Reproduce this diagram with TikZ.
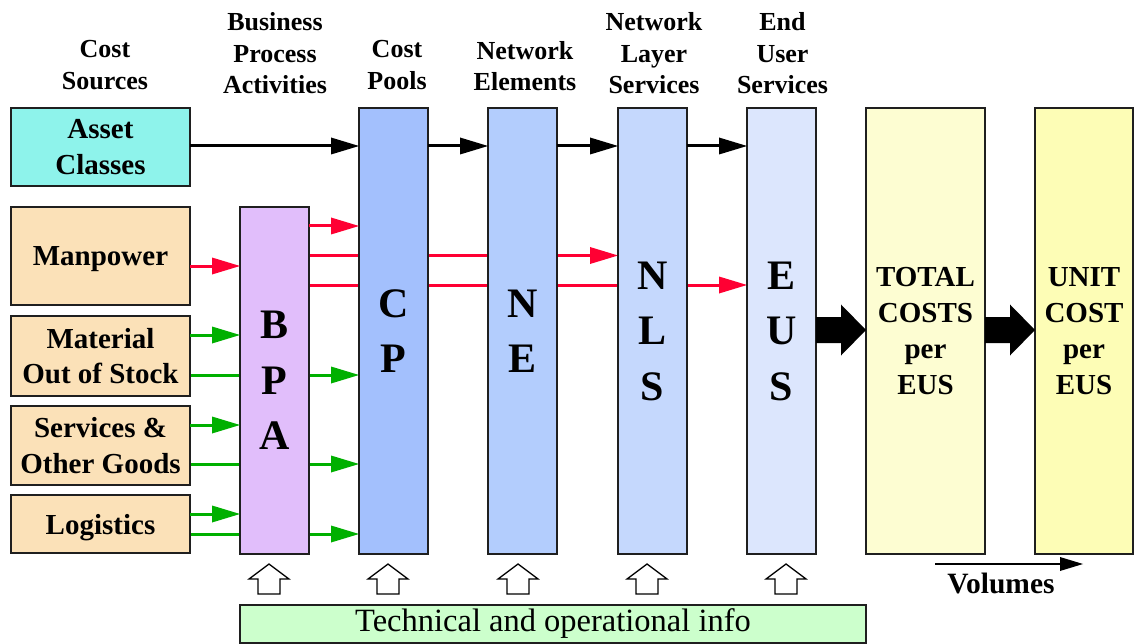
\documentclass[tikz,border=0pt]{standalone}
\usepackage{fontspec}
\setmainfont{Liberation Serif}
\usetikzlibrary{arrows.meta,backgrounds}
\definecolor{cAsset}{HTML}{8EF3EB}
\definecolor{cSrc}{HTML}{FBE1B8}
\definecolor{cBPA}{HTML}{E1BEFB}
\definecolor{cCP}{HTML}{A3C0FD}
\definecolor{cNE}{HTML}{B3CDFD}
\definecolor{cNLS}{HTML}{C5D8FD}
\definecolor{cEUS}{HTML}{DCE6FD}
\definecolor{cTot}{HTML}{FDFDD2}
\definecolor{cUnit}{HTML}{FDFDB6}
\definecolor{cTech}{HTML}{CCFFCC}
\definecolor{cRed}{HTML}{FF0033}
\definecolor{cGreen}{HTML}{00B000}
\begin{document}
\begin{tikzpicture}[x=1pt,y=-1pt,
  box/.style={draw=black!88, line width=1.5pt, inner sep=0pt, outer sep=0pt, align=center,
    anchor=north west, font=\fontsize{29}{35.5}\selectfont\bfseries},
  src/.style={box, fill=cSrc, minimum width=179pt},
  col/.style={box, minimum width=69pt, minimum height=446pt,
    font=\fontsize{42}{55.5}\selectfont\bfseries},
  res/.style={box, minimum height=446pt, font=\fontsize{29}{36}\selectfont\bfseries},
  hdr/.style={anchor=north, inner sep=0pt, align=center, font=\fontsize{26}{31.5}\selectfont\bfseries},
  blk/.style={line width=3pt, -{Triangle[length=28pt,width=17pt,line width=0pt]}},
  rd/.style={blk, draw=cRed},
  gr/.style={blk, draw=cGreen},
  hollowup/.pic={\draw[line width=1.3pt, fill=white, line join=miter]
    (-11,0) -- (-11,-15) -- (-20,-15) -- (0,-30) -- (20,-15) -- (11,-15) -- (11,0) -- cycle;},
  bigarr/.pic={\fill[black] (0,-13) -- (25,-13) -- (25,-25.5) -- (50,0) -- (25,25.5) -- (25,13) -- (0,13) -- cycle;}
]
\useasboundingbox (0,0) rectangle (1134,644);

% headers
\node[hdr] (h1) at (105,40.5) {Cost\\Sources};
\node[hdr] (h2) at (275,12.5) {Business\\Process\\Activities};
\node[hdr] (h3) at (397,40.5) {Cost\\Pools};
\node[hdr] (h4) at (525,41) {Network\\Elements};
\node[hdr] (h5) at (654,12.5) {Network\\Layer\\Services};
\node[hdr] (h6) at (782.5,12.5) {End\\User\\Services};

% source boxes
\node[box, fill=cAsset, minimum width=179pt, minimum height=78pt] (asset) at (11,108) {Asset\\Classes};
\node[src, minimum height=98pt, text depth=0pt] (man) at (11,207) {Manpower};
\node[src, minimum height=80pt] (mat) at (11,316) {Material\\Out of Stock};
\node[src, minimum height=79pt] (serv) at (11,406) {Services \&\\Other Goods};
\node[src, minimum height=58pt, text depth=0pt] (log) at (11,495) {Logistics};

% columns
\node[col, fill=cBPA, minimum height=347pt] (bpa) at (240,207) {B\\P\\A};
\node[col, fill=cCP] (cp) at (359,108) {C\\P};
\node[col, fill=cNE] (ne) at (488,108) {N\\E};
\node[col, fill=cNLS] (nls) at (618,108) {N\\L\\S};
\node[col, fill=cEUS] (eus) at (747,108) {E\\U\\S};
\node[res, fill=cTot, minimum width=119pt] (tot) at (866,108) {TOTAL\\COSTS\\per\\EUS};
\node[res, fill=cUnit, minimum width=98pt] (unit) at (1035,108) {UNIT\\COST\\per\\EUS};

% technical info
\node[box, fill=cTech, minimum width=626pt, minimum height=38pt,
  font=\fontsize{32.5}{36}\selectfont] (tech) at (240,605) {Technical and operational info};

% black arrows
\draw[blk] (asset.east |- 0,146) -- (cp.west |- 0,146);
\draw[blk] (cp.east |- 0,146) -- (ne.west |- 0,146);
\draw[blk] (ne.east |- 0,146) -- (nls.west |- 0,146);
\draw[blk] (nls.east |- 0,146) -- (eus.west |- 0,146);

% red arrows
\draw[rd] (man.east |- 0,266) -- (bpa.west |- 0,266);
\draw[rd] (bpa.east |- 0,226) -- (cp.west |- 0,226);

% green arrows
\draw[gr] (mat.east |- 0,335) -- (bpa.west |- 0,335);
\draw[gr] (serv.east |- 0,425) -- (bpa.west |- 0,425);
\draw[gr] (log.east |- 0,514) -- (bpa.west |- 0,514);

\begin{pgfonlayer}{background}
  \fill[white] (0,0) rectangle (1134,644);
  \draw[rd] (bpa.east |- 0,255.5) -- (nls.west |- 0,255.5);
  \draw[rd] (bpa.east |- 0,285) -- (eus.west |- 0,285);
  \draw[gr] (mat.east |- 0,375) -- (cp.west |- 0,375);
  \draw[gr] (serv.east |- 0,464) -- (cp.west |- 0,464);
  \draw[gr] (log.east |- 0,534) -- (cp.west |- 0,534);
\end{pgfonlayer}

% big arrows
\pic at (eus.east |- 0,330) {bigarr};
\pic at (tot.east |- 0,330) {bigarr};

% hollow arrows
\pic at (269,594) {hollowup};
\pic at (388,594) {hollowup};
\pic at (518,594) {hollowup};
\pic at (647,594) {hollowup};
\pic at (786,594) {hollowup};

% volumes
\coordinate (v1) at (935,564);
\coordinate (v2) at (1083,564);
\draw[line width=2pt, -{Triangle[length=23pt,width=14pt,line width=0pt]}] (v1) -- (v2);
\node[inner sep=0pt, font=\fontsize{29.5}{35}\selectfont\bfseries] (vol) at (1001,583) {Volumes};
\end{tikzpicture}
\end{document}
